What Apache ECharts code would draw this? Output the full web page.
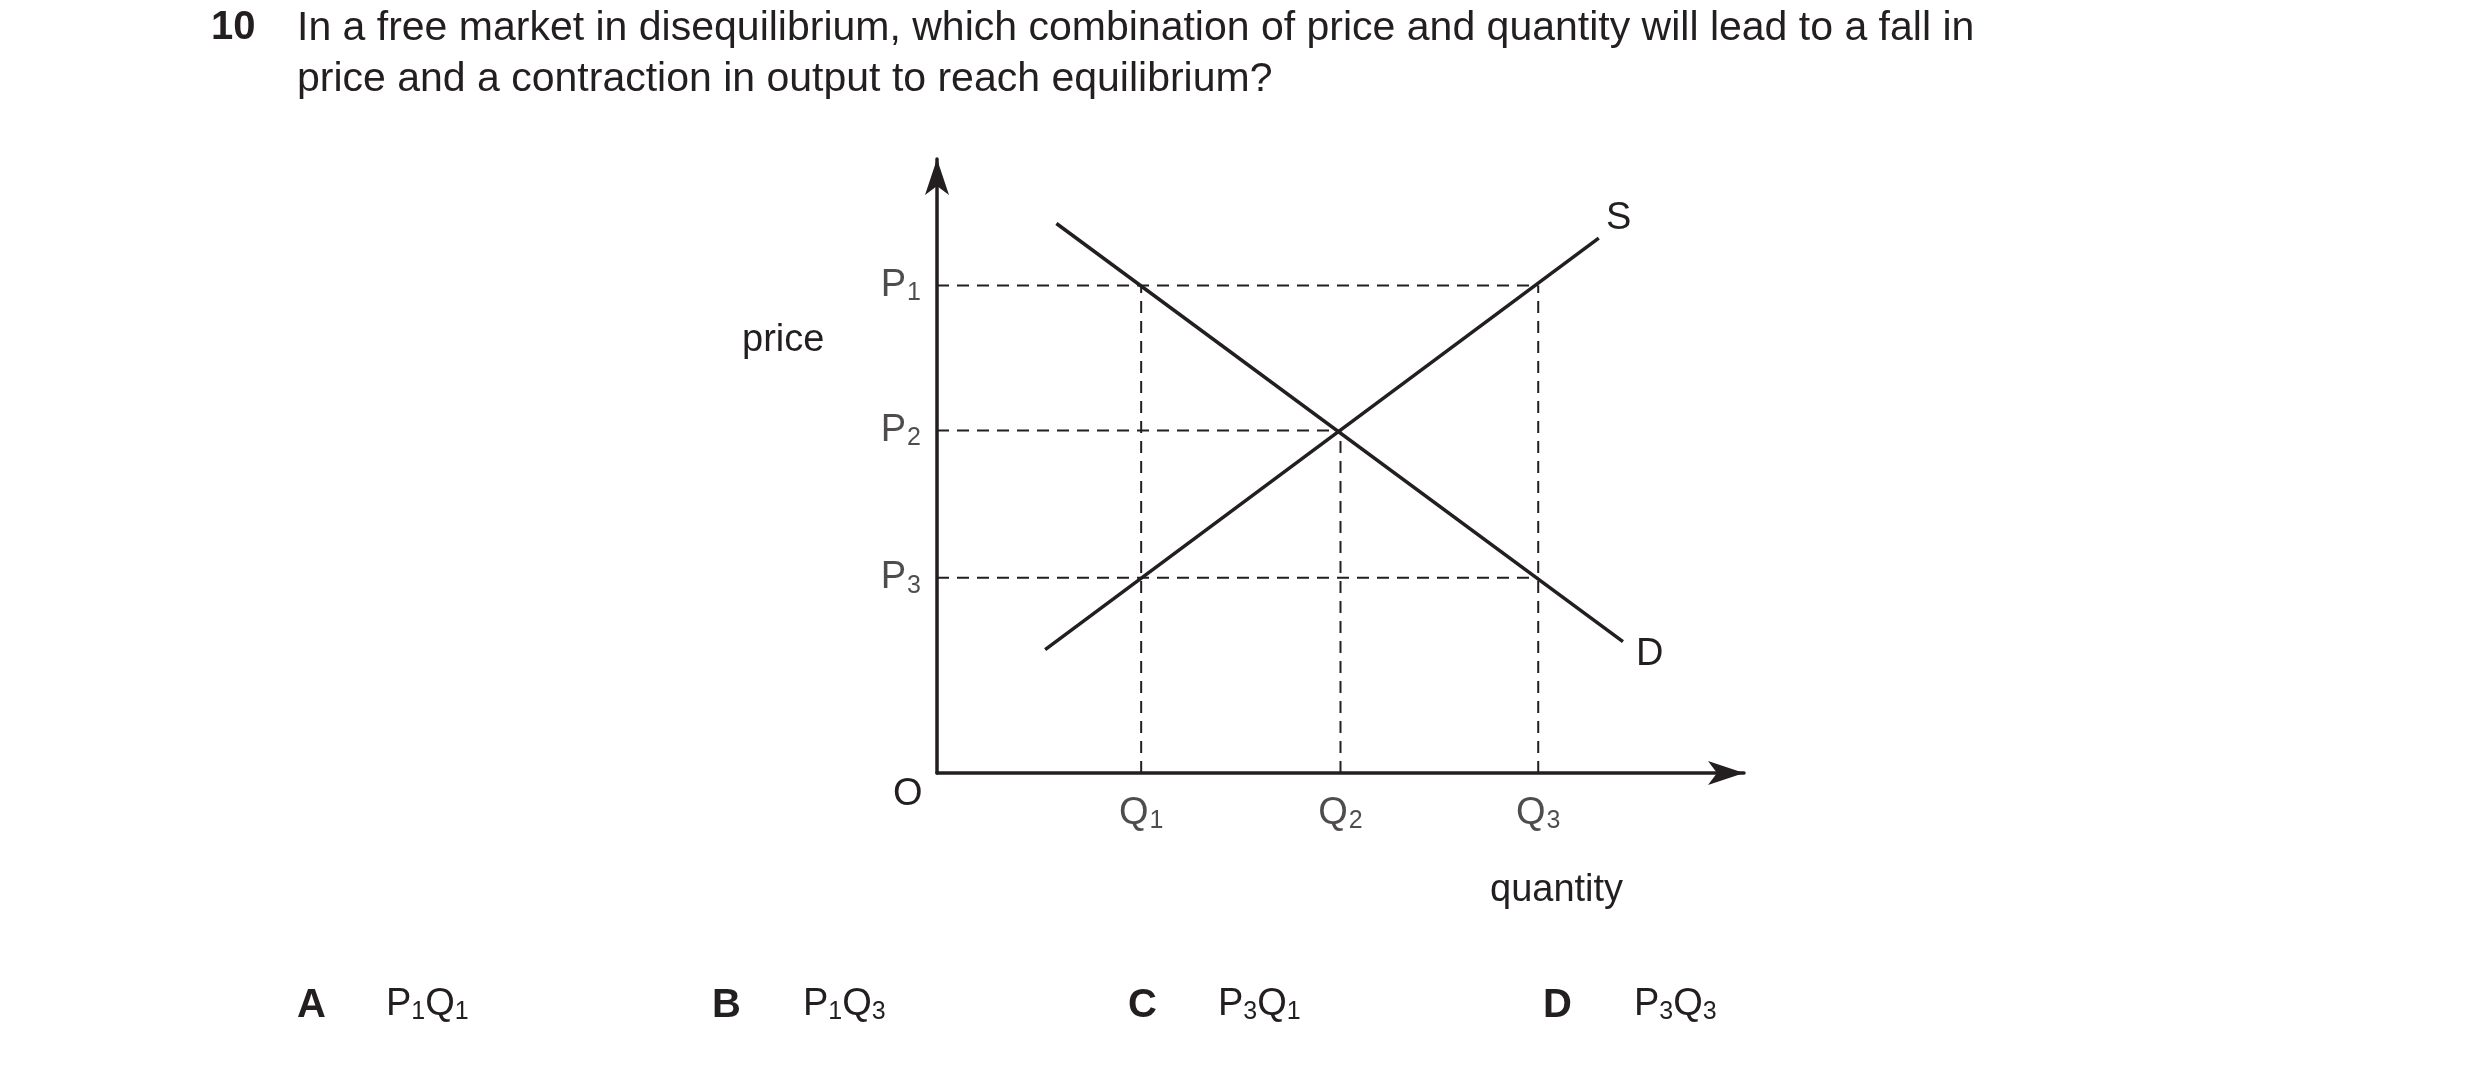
<!DOCTYPE html>
<html><head><meta charset="utf-8">
<script src="https://cdn.jsdelivr.net/npm/echarts@6/dist/echarts.min.js"></script>
<style>html,body{margin:0;background:#fff}#c{width:2480px;height:1065px}</style>
</head><body><div id="c"></div>
<script>
const qLevels = [25.3, 50, 74.5];       // Q1, Q2, Q3
const pLevels = [79.4, 55.8, 31.8];     // P1, P2, P3
const demand = [[14.8, 89.5], [85, 21.4]];
const supply = [[13.4, 20.1], [82, 87.1]];
const qNames = ['1', '2', '3'];
const pNames = ['1', '2', '3'];
const answers = [['A','1','1'],['B','1','3'],['C','3','1'],['D','3','3']];

const F = '"Liberation Sans", Arial, sans-serif';
const ink = '#231f20';
const dash = {color: ink, width: 2, type: [12, 8]};
const dashed = [
  [[0, pLevels[0]], [qLevels[2], pLevels[0]]],
  [[0, pLevels[1]], [qLevels[1], pLevels[1]]],
  [[0, pLevels[2]], [qLevels[2], pLevels[2]]],
  [[qLevels[0], 0], [qLevels[0], pLevels[0]]],
  [[qLevels[1], 0], [qLevels[1], pLevels[1]]],
  [[qLevels[2], 0], [qLevels[2], pLevels[0]]]
];
const rich = {m: {fontSize: 38, fontFamily: F, color: ink}, s: {fontSize: 25, fontFamily: F, color: ink, padding: [16, 0, 0, 1]}};
const series = [];
dashed.forEach(d => series.push({type: 'line', data: d, symbol: 'none', silent: true, lineStyle: dash, z: 1}));
series.push({type: 'line', data: demand, symbol: 'none', lineStyle: {color: ink, width: 3.5}, z: 3});
series.push({type: 'line', data: supply, symbol: 'none', lineStyle: {color: ink, width: 3.5}, z: 3});
series.push({type: 'scatter', symbolSize: 0, silent: true,
  data: pLevels.map((p, i) => ({value: [0, p], label: {formatter: '{m|P}{s|' + pNames[i] + '}'}})),
  label: {show: true, position: 'left', distance: 16, color: ink, rich: rich}});
series.push({type: 'scatter', symbolSize: 0, silent: true,
  data: qLevels.map((q, i) => ({value: [q, 0], label: {formatter: '{m|Q}{s|' + qNames[i] + '}'}})),
  label: {show: true, position: 'bottom', distance: 20, color: ink, rich: rich}});

const txt = (x, y, t, o) => Object.assign({type: 'text', left: x, top: y, style: Object.assign({text: t, font: '38px ' + F, fill: ink}, o || {})});
const graphics = [
  txt(211, 8, '10', {font: 'bold 40px ' + F}),
  txt(297, 8, 'In a free market in disequilibrium, which combination of price and quantity will lead to a fall in', {font: '41px ' + F}),
  txt(297, 59, 'price and a contraction in output to reach equilibrium?', {font: '41px ' + F}),
  txt(742, 322, 'price'),
  txt(893, 776, 'O'),
  txt(1490, 872, 'quantity'),
  txt(1606, 200, 'S'),
  txt(1636, 636, 'D')
];
const ax = [[297, 386], [712, 803], [1128, 1218], [1543, 1634]];
answers.forEach((a, i) => {
  graphics.push(txt(ax[i][0], 986, a[0], {font: 'bold 40px ' + F}));
  graphics.push({type: 'text', left: ax[i][1], top: 986, style: {text: '{m|P}{s|' + a[1] + '}{m|Q}{s|' + a[2] + '}', rich: {m: {fontSize: 38, fontFamily: F, fill: ink}, s: {fontSize: 25, fontFamily: F, fill: ink, padding: [14, 0, 0, 0]}}}});
});

const axisCommon = {min: 0, max: 100, splitLine: {show: false}, axisTick: {show: false}, axisLabel: {show: false},
  axisLine: {onZero: false, symbol: ['none', 'arrow'], symbolSize: [18, 36], lineStyle: {color: ink, width: 3.5}}};
const chart = echarts.init(document.getElementById('c'));
chart.setOption({
  animation: false,
  grid: {left: 937, top: 159, width: 807, height: 614},
  xAxis: Object.assign({type: 'value'}, axisCommon),
  yAxis: Object.assign({type: 'value'}, axisCommon),
  series: series,
  graphic: graphics
});
</script></body></html>
